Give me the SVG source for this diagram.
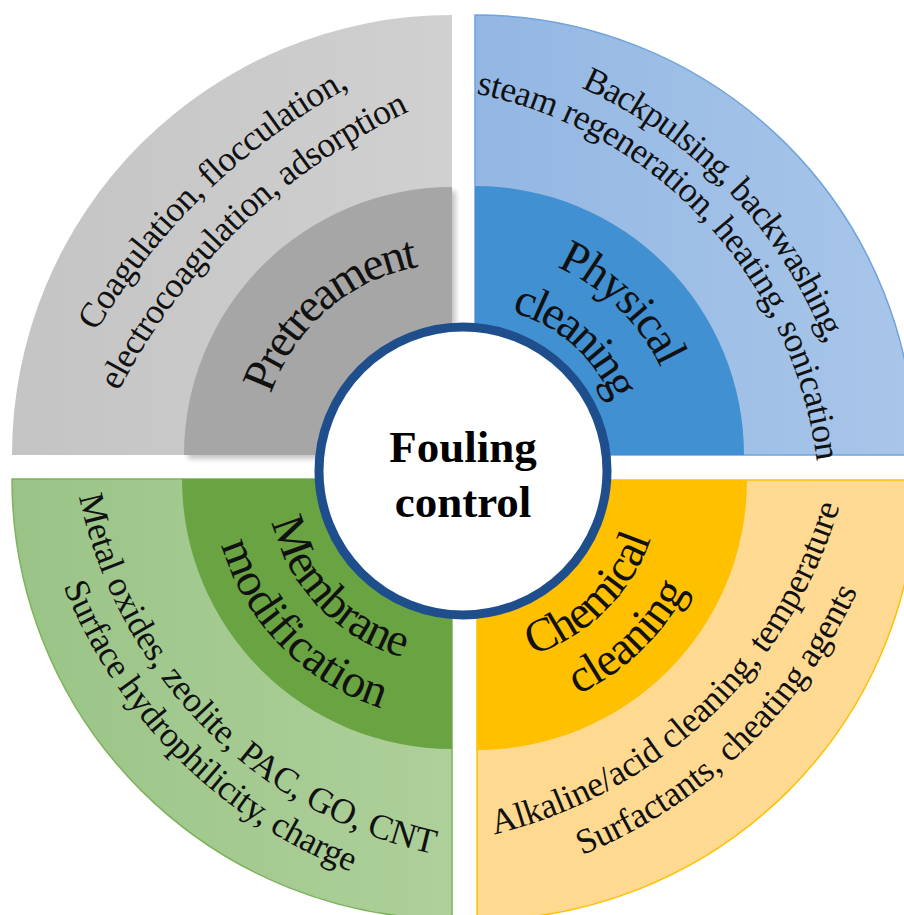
<svg xmlns="http://www.w3.org/2000/svg" xmlns:xlink="http://www.w3.org/1999/xlink" width="904" height="915" viewBox="0 0 904 915">
<style>
.s{font-family:"Liberation Serif","Times New Roman",serif;font-size:35.5px;fill:#111}
.b{font-family:"Liberation Serif","Times New Roman",serif;font-size:47px;fill:#111}
.c{font-family:"Liberation Serif","Times New Roman",serif;font-size:45px;font-weight:bold;fill:#000}
</style>
<defs>
<linearGradient id="gGray" x1="0" y1="0" x2="1" y2="0"><stop offset="0" stop-color="#C4C4C4"/><stop offset="1" stop-color="#D0D0D0"/></linearGradient>
<linearGradient id="gBlue" x1="0" y1="0" x2="1" y2="0"><stop offset="0" stop-color="#93B7E3"/><stop offset="1" stop-color="#A9C6E9"/></linearGradient>
<linearGradient id="gGreen" x1="0" y1="0" x2="1" y2="0"><stop offset="0" stop-color="#9AC487"/><stop offset="1" stop-color="#AED09A"/></linearGradient>
<linearGradient id="gOrange" x1="0" y1="0" x2="1" y2="0"><stop offset="0" stop-color="#FFD98F"/><stop offset="1" stop-color="#FFDA94"/></linearGradient>
<filter id="sh" x="-10%" y="-10%" width="130%" height="130%"><feGaussianBlur stdDeviation="2.5"/></filter>
<path id="tl1" d="M188.5,1141.7 A672,672 0 0 1 1155.5,208.3"/>
<path id="tl2" d="M224,1106.5 A622,622 0 0 1 1120,243.5"/>
<path id="tlb" d="M307.2,579.6 A191,191 0 0 1 596.8,330.4"/>
<path id="tr1" d="M67,176.3 A468,468 0 0 1 713,853.7"/>
<path id="tr2" d="M97.8,199.5 A430,430 0 0 1 682.2,830.5"/>
<path id="trb1" d="M327.9,312.2 A205,205 0 0 1 622.1,597.8"/>
<path id="trb2" d="M362.7,355.6 A150,150 0 0 1 587.3,554.4"/>
<path id="blb1" d="M323.4,346 A185,185 0 0 0 580.6,612"/>
<path id="blb2" d="M282,305.4 A243,243 0 0 0 622,652.6"/>
<path id="bl1" d="M205.7,70.7 A465,465 0 0 0 860.3,731.3"/>
<path id="bl2" d="M171.8,42.4 A509,509 0 0 0 894.2,759.6"/>
<path id="brb1" d="M344.2,610.2 A186,186 0 0 0 609.8,349.8"/>
<path id="brb2" d="M305.1,644.6 A238,238 0 0 0 648.9,315.4"/>
<path id="br1" d="M41.6,704.9 A477,477 0 0 0 732.4,47.1"/>
<path id="br2" d="M13.1,734.5 A518,518 0 0 0 760.9,17.5"/>
</defs>
<rect width="904" height="915" fill="#FFFFFF"/>

<g id="pretreatment">
<path d="M452,455 L12,455 A440,440 0 0 1 452,15 Z" fill="url(#gGray)"/>
<path d="M456,459 L188,459 A268,268 0 0 1 456,191 Z" fill="#000" opacity="0.22" filter="url(#sh)"/>
<path d="M452,455 L184,455 A268,268 0 0 1 452,187 Z" fill="#A6A6A6"/>
<text class="s"><textPath xlink:href="#tl1" href="#tl1" startOffset="50%" text-anchor="middle" textLength="356">Coagulation, flocculation,</textPath></text>
<text class="s"><textPath xlink:href="#tl2" href="#tl2" startOffset="50%" text-anchor="middle" textLength="411">electrocoagulation, adsorption</textPath></text>
<text class="b"><textPath xlink:href="#tlb" href="#tlb" startOffset="50%" text-anchor="middle" textLength="205">Pretreament</textPath></text>
</g>

<g id="physical-cleaning">
<path d="M475,455 L475,15 A440,440 0 0 1 915,455 Z" fill="url(#gBlue)" stroke="#6FA3DA" stroke-width="1.5"/>
<path d="M475,455 L475,186 A269,269 0 0 1 744,455 Z" fill="#4190D1"/>
<text class="s"><textPath xlink:href="#tr1" href="#tr1" startOffset="50%" text-anchor="middle" textLength="364">Backpulsing, backwashing,</textPath></text>
<text class="s"><textPath xlink:href="#tr2" href="#tr2" startOffset="50%" text-anchor="middle" textLength="535">steam regeneration, heating, sonication</textPath></text>
<text class="b"><textPath xlink:href="#trb1" href="#trb1" startOffset="50%" text-anchor="middle" textLength="148">Physical</textPath></text>
<text class="b"><textPath xlink:href="#trb2" href="#trb2" startOffset="50%" text-anchor="middle" textLength="140">cleaning</textPath></text>
</g>

<g id="membrane-modification">
<path d="M452,479 L12,479 A440,440 0 0 0 452,919 Z" fill="url(#gGreen)" stroke="#7DB35A" stroke-width="1.5"/>
<path d="M452,479 L182,479 A270,270 0 0 0 452,749 Z" fill="#6AA442"/>
<text class="s"><textPath xlink:href="#bl1" href="#bl1" startOffset="50%" text-anchor="middle" textLength="532">Metal oxides, zeolite, PAC, GO, CNT</textPath></text>
<text class="s"><textPath xlink:href="#bl2" href="#bl2" startOffset="50%" text-anchor="middle" textLength="417">Surface hydrophilicity, charge</textPath></text>
<text class="b"><textPath xlink:href="#blb1" href="#blb1" startOffset="50%" text-anchor="middle" textLength="198">Membrane</textPath></text>
<text class="b"><textPath xlink:href="#blb2" href="#blb2" startOffset="50%" text-anchor="middle" textLength="238">modification</textPath></text>
</g>

<g id="chemical-cleaning">
<path d="M477,480 L477,920 A440,440 0 0 0 917,480 Z" fill="url(#gOrange)" stroke="#FFC000" stroke-width="1.5"/>
<path d="M477,480 L477,750 A270,270 0 0 0 747,480 Z" fill="#FFC000"/>
<text class="s"><textPath xlink:href="#br1" href="#br1" startOffset="50%" text-anchor="middle" textLength="499">Alkaline/acid cleaning, temperature</textPath></text>
<text class="s"><textPath xlink:href="#br2" href="#br2" startOffset="50%" text-anchor="middle" textLength="391">Surfactants, cheating agents</textPath></text>
<text class="b"><textPath xlink:href="#brb1" href="#brb1" startOffset="50%" text-anchor="middle" textLength="172">Chemical</textPath></text>
<text class="b"><textPath xlink:href="#brb2" href="#brb2" startOffset="50%" text-anchor="middle" textLength="154">cleaning</textPath></text>
</g>

<g id="fouling-control">
<circle cx="463" cy="471" r="144" fill="#FFFFFF" stroke="#1F4E8C" stroke-width="9"/>
<text class="c" x="463" y="462" text-anchor="middle">Fouling</text>
<text class="c" x="463" y="517" text-anchor="middle">control</text>
</g>

<g id="connectors"/>
</svg>
